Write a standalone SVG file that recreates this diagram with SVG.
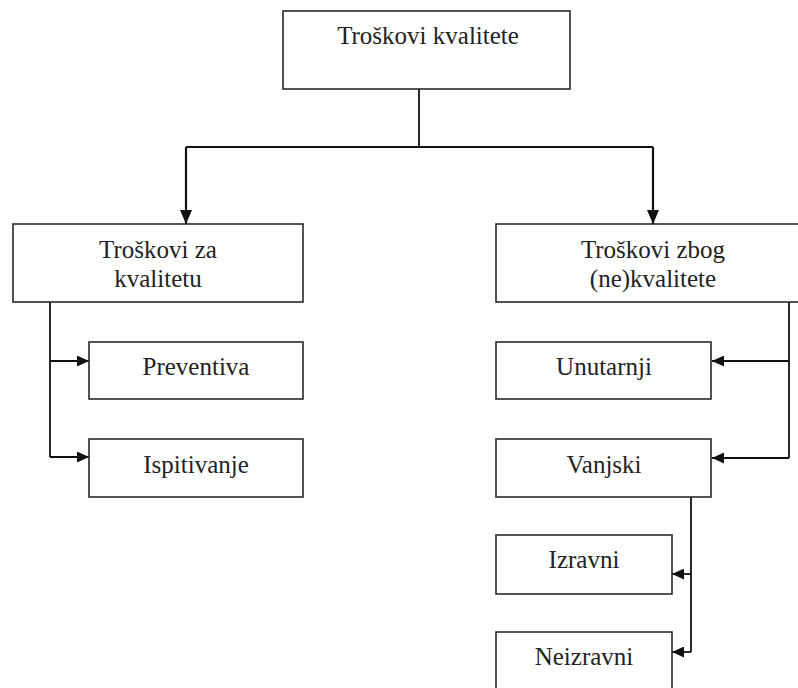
<svg xmlns="http://www.w3.org/2000/svg" width="798" height="688" viewBox="0 0 798 688">
<style>
.box{fill:#fff;stroke:#2a2a2a;stroke-width:1.6}
.t{font-family:"Liberation Serif","Times New Roman",serif;font-size:25px;fill:#222;text-anchor:middle}
.c{fill:none;stroke:#111;stroke-width:1.8}
.c2{fill:none;stroke:#111;stroke-width:2.2}
</style>
<defs>
<marker id="ah" markerUnits="userSpaceOnUse" markerWidth="14" markerHeight="12" refX="14" refY="6" orient="auto">
<path d="M0,0 L14,6 L0,12 Z" fill="#111"/>
</marker>
<marker id="ahs" markerUnits="userSpaceOnUse" markerWidth="12" markerHeight="11" refX="12" refY="5.5" orient="auto">
<path d="M0,0 L12,5.5 L0,11 Z" fill="#111"/>
</marker>
</defs>
<rect width="798" height="688" fill="#fff"/>
<g id="connectors">
<path class="c" d="M419,89 V147"/>
<path class="c2" d="M186,147 H653"/>
<path class="c2" d="M186,147 V224" marker-end="url(#ah)"/>
<path class="c2" d="M653,147 V224" marker-end="url(#ah)"/>
<path class="c" d="M50,302 V457"/>
<path class="c" d="M50,361 H89" marker-end="url(#ahs)"/>
<path class="c" d="M50,457 H89" marker-end="url(#ahs)"/>
<path class="c" d="M789,302 V458"/>
<path class="c" d="M789,361 H712" marker-end="url(#ahs)"/>
<path class="c" d="M789,458 H712" marker-end="url(#ahs)"/>
<path class="c" d="M691,497 V652"/>
<path class="c" d="M691,574 H672" marker-end="url(#ahs)"/>
<path class="c" d="M691,652 H672" marker-end="url(#ahs)"/>
</g>
<g id="n-top">
<rect class="box" x="283" y="11" width="287" height="78"/>
<text class="t" x="428" y="44">Troškovi kvalitete</text>
</g>
<g id="n-za">
<rect class="box" x="13" y="224" width="290" height="78"/>
<text class="t" x="158" y="258">Troškovi za</text>
<text class="t" x="158" y="287">kvalitetu</text>
</g>
<g id="n-zbog">
<rect class="box" x="496" y="224" width="316" height="78"/>
<text class="t" x="653" y="258">Troškovi zbog</text>
<text class="t" x="653" y="287">(ne)kvalitete</text>
</g>
<g id="n-prev">
<rect class="box" x="89" y="342" width="214" height="57"/>
<text class="t" x="196" y="375">Preventiva</text>
</g>
<g id="n-isp">
<rect class="box" x="89" y="439" width="214" height="58"/>
<text class="t" x="196" y="473">Ispitivanje</text>
</g>
<g id="n-unut">
<rect class="box" x="496" y="342" width="215" height="57"/>
<text class="t" x="604" y="375">Unutarnji</text>
</g>
<g id="n-vanj">
<rect class="box" x="496" y="439" width="215" height="58"/>
<text class="t" x="604" y="473">Vanjski</text>
</g>
<g id="n-izr">
<rect class="box" x="496" y="535" width="176" height="59"/>
<text class="t" x="584" y="568">Izravni</text>
</g>
<g id="n-neizr">
<rect class="box" x="496" y="632" width="176" height="70"/>
<text class="t" x="584" y="665">Neizravni</text>
</g>
</svg>
